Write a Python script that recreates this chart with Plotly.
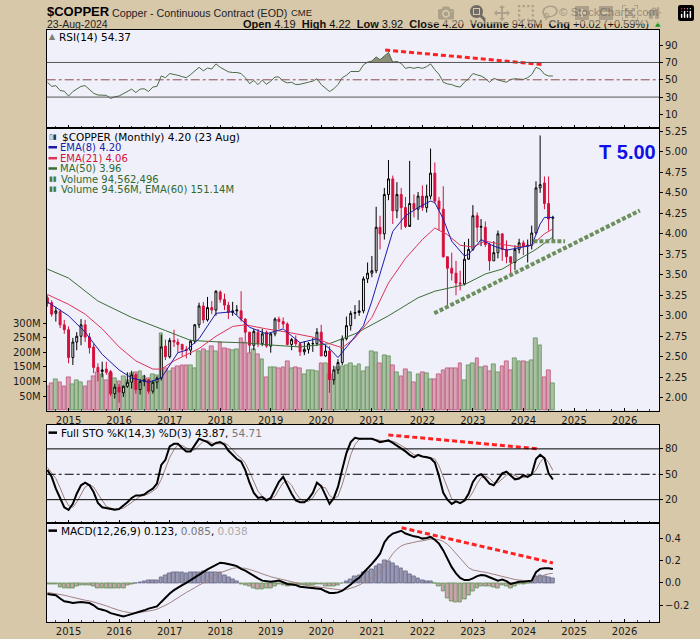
import pandas as pd
import plotly.graph_objects as go

# monthly bars Aug 2014 .. Aug 2024
months = pd.date_range("2014-08-01", "2024-08-01", freq="MS")

opens = [3.22, 3.16, 3.03, 3.05, 2.89,
         2.83, 2.49, 2.68, 2.75, 2.89, 2.74, 2.62, 2.37, 2.32, 2.35, 2.32, 2.05,
         2.13, 2.06, 2.14, 2.19, 2.28, 2.10, 2.20, 2.22, 2.08, 2.19, 2.24, 2.63,
         2.50, 2.70, 2.68, 2.65, 2.59, 2.58, 2.69, 2.89, 3.12, 2.95, 3.10, 3.07,
         3.29, 3.20, 3.13, 3.04, 3.06, 3.06, 2.96, 2.80, 2.64, 2.80, 2.66, 2.80,
         2.63, 2.78, 2.96, 2.93, 2.90, 2.65, 2.71, 2.66, 2.56, 2.59, 2.66, 2.66,
         2.80, 2.51, 2.57, 2.22, 2.34, 2.43, 2.72, 2.88, 3.03, 3.04, 3.06, 3.45,
         3.52, 3.55, 4.08, 4.00, 4.48, 4.67, 4.28, 4.48, 4.32, 4.09, 4.37, 4.30,
         4.46, 4.32, 4.46, 4.74, 4.40, 4.30, 3.72, 3.58, 3.52, 3.40, 3.39, 3.69,
         3.81, 4.22, 4.08, 4.08, 3.87, 3.67, 3.77, 4.00, 3.81, 3.72, 3.65, 3.81,
         3.89, 3.85, 3.86, 4.01, 4.56, 4.62, 4.37, 4.19]
highs = [3.25, 3.19, 3.11, 3.08, 2.95,
         2.87, 2.73, 2.80, 2.96, 2.95, 2.79, 2.66, 2.42, 2.44, 2.44, 2.34, 2.17,
         2.17, 2.15, 2.31, 2.33, 2.30, 2.23, 2.28, 2.23, 2.21, 2.26, 2.77, 2.71,
         2.73, 2.83, 2.72, 2.66, 2.63, 2.71, 2.90, 3.16, 3.17, 3.23, 3.18, 3.31,
         3.31, 3.27, 3.17, 3.17, 3.13, 3.30, 2.97, 2.80, 2.84, 2.84, 2.84, 2.82,
         2.80, 2.98, 2.99, 2.98, 2.92, 2.73, 2.76, 2.67, 2.69, 2.68, 2.73, 2.85,
         2.89, 2.65, 2.63, 2.39, 2.47, 2.76, 2.99, 3.06, 3.13, 3.19, 3.48, 3.65,
         3.73, 4.33, 4.22, 4.56, 4.90, 4.71, 4.63, 4.56, 4.45, 4.89, 4.48, 4.51,
         4.59, 4.60, 5.04, 4.87, 4.45, 4.58, 3.72, 3.77, 3.67, 3.55, 3.90, 3.94,
         4.35, 4.26, 4.18, 4.15, 3.89, 3.91, 4.04, 4.00, 3.92, 3.72, 3.86, 3.94,
         3.92, 3.93, 4.10, 4.64, 5.20, 4.70, 4.70, 4.22]
lows = [3.11, 2.99, 2.93, 2.85, 2.78,
        2.42, 2.40, 2.58, 2.64, 2.68, 2.54, 2.30, 2.20, 2.25, 2.28, 2.02, 1.99,
        1.94, 2.01, 2.12, 2.11, 2.05, 2.04, 2.14, 2.05, 2.05, 2.11, 2.21, 2.46,
        2.48, 2.62, 2.55, 2.50, 2.48, 2.52, 2.66, 2.85, 2.91, 2.93, 3.02, 3.00,
        3.16, 3.07, 2.96, 3.00, 3.01, 2.93, 2.69, 2.55, 2.58, 2.62, 2.63, 2.61,
        2.55, 2.75, 2.84, 2.85, 2.64, 2.58, 2.63, 2.51, 2.52, 2.54, 2.56, 2.63,
        2.51, 2.50, 2.06, 2.16, 2.29, 2.40, 2.70, 2.82, 2.96, 3.00, 3.03, 3.40,
        3.47, 3.52, 3.81, 3.93, 4.41, 4.12, 4.19, 4.05, 4.07, 4.11, 4.20, 4.17,
        4.28, 4.26, 4.42, 4.37, 4.04, 3.71, 3.13, 3.43, 3.25, 3.31, 3.37, 3.70,
        3.79, 3.90, 3.85, 3.84, 3.55, 3.67, 3.70, 3.67, 3.64, 3.51, 3.56, 3.76,
        3.74, 3.65, 3.81, 3.99, 4.50, 4.30, 4.04, 3.92]
closes = [3.15, 3.02, 3.06, 2.89, 2.83,
          2.49, 2.68, 2.75, 2.89, 2.74, 2.61, 2.37, 2.32, 2.34, 2.31, 2.05, 2.13,
          2.07, 2.14, 2.19, 2.28, 2.10, 2.20, 2.22, 2.08, 2.19, 2.24, 2.62, 2.50,
          2.70, 2.68, 2.65, 2.59, 2.58, 2.69, 2.89, 3.12, 2.95, 3.10, 3.07, 3.30,
          3.20, 3.13, 3.04, 3.06, 3.07, 2.96, 2.80, 2.64, 2.81, 2.66, 2.78, 2.63,
          2.78, 2.96, 2.93, 2.90, 2.65, 2.71, 2.66, 2.56, 2.59, 2.66, 2.66, 2.80,
          2.51, 2.57, 2.22, 2.34, 2.43, 2.72, 2.88, 3.03, 3.04, 3.06, 3.45, 3.52,
          3.55, 4.08, 4.00, 4.48, 4.67, 4.28, 4.48, 4.32, 4.09, 4.37, 4.30, 4.46,
          4.32, 4.46, 4.74, 4.40, 4.30, 3.72, 3.58, 3.52, 3.40, 3.39, 3.69, 3.81,
          4.22, 4.08, 4.09, 3.87, 3.67, 3.77, 4.00, 3.81, 3.72, 3.65, 3.81, 3.89,
          3.85, 3.86, 4.01, 4.56, 4.60, 4.37, 4.18, 4.20]
# volume in millions of contracts
volume_m = [83, 95, 107, 98, 82, 115, 92, 104, 98, 83,
            101, 118, 132, 124, 104, 128, 112, 100, 118, 105,
            128, 130, 136, 118, 110, 125, 122, 267, 147,
            136, 147, 153, 155, 155, 155, 144, 204, 210, 204, 221,
            204, 236, 213, 210, 207, 210, 248, 236, 198, 210, 193, 176, 115,
            150, 150, 147, 150, 170, 147, 149, 147, 124, 138, 138, 136,
            161, 161, 124, 104, 149, 153, 155, 164, 153, 159,
            136, 150, 204, 201, 164, 189, 186, 155, 130, 118,
            142, 133, 98, 126, 130, 128, 107, 109, 126, 139,
            145, 145, 146, 162, 104, 155, 162, 179, 149, 153,
            136, 159, 133, 153, 168, 140, 178, 168, 170, 165,
            172, 248, 225, 116, 139, 94.6]

# overlays
ema8_dates = ["2014-08", "2015-01", "2015-05", "2015-09", "2016-01", "2016-04", "2016-08",
              "2016-11", "2017-03", "2017-05", "2017-08", "2017-12", "2018-04", "2018-08",
              "2018-12", "2019-04", "2019-08", "2019-12", "2020-03", "2020-05", "2020-08",
              "2020-11", "2021-01", "2021-04", "2021-06", "2021-09", "2021-12", "2022-03",
              "2022-04", "2022-06", "2022-08", "2022-11", "2022-12", "2023-02", "2023-03",
              "2023-06", "2023-09", "2023-12", "2024-03", "2024-04", "2024-05", "2024-06",
              "2024-07", "2024-08"]
ema8_vals = [3.17, 3.00, 2.80, 2.53, 2.34, 2.24, 2.19, 2.24, 2.55, 2.58, 2.72, 3.03, 3.05,
             2.86, 2.78, 2.84, 2.67, 2.72, 2.60, 2.49, 2.68, 2.88, 3.18, 3.67, 4.03, 4.22,
             4.32, 4.40, 4.38, 4.18, 3.91, 3.73, 3.75, 3.87, 3.93, 3.85, 3.80, 3.83, 3.86,
             3.99, 4.12, 4.20, 4.20, 4.20]
ema21_dates = ["2014-08", "2015-01", "2015-05", "2015-09", "2016-01", "2016-05", "2016-09",
               "2016-11", "2017-02", "2017-05", "2017-08", "2017-12", "2018-04", "2018-07",
               "2018-12", "2019-05", "2019-11", "2020-03", "2020-06", "2020-09", "2021-01",
               "2021-05", "2021-09", "2022-01", "2022-04", "2022-07", "2022-10", "2023-01",
               "2023-04", "2023-08", "2023-12", "2024-03", "2024-06", "2024-08"]
ema21_vals = [3.26, 3.14, 3.02, 2.84, 2.62, 2.45, 2.35, 2.35, 2.45, 2.52, 2.60, 2.75, 2.87,
              2.89, 2.84, 2.80, 2.74, 2.66, 2.61, 2.73, 2.98, 3.40, 3.70, 3.93, 4.07, 3.99,
              3.86, 3.84, 3.91, 3.87, 3.84, 3.86, 4.00, 4.06]
ma50_dates = ["2014-08", "2015-01", "2015-08", "2016-04", "2016-12", "2017-06", "2018-01",
              "2018-07", "2019-02", "2019-08", "2020-03", "2020-09", "2021-05", "2021-12",
              "2022-04", "2022-11", "2023-04", "2023-08", "2023-12", "2024-04", "2024-08"]
ma50_vals = [3.57, 3.46, 3.18, 2.98, 2.82, 2.70, 2.68, 2.67, 2.64, 2.62, 2.66, 2.78, 3.00,
             3.22, 3.30, 3.38, 3.51, 3.57, 3.69, 3.81, 3.96]

# indicator panels, one value per month
rsi14 = [47.2, 42.4, 43.2, 37.6, 36.8, 31.2, 36.4, 39.2, 42.4, 43.2,
         39.2, 34.4, 32.4, 32.4, 32.0, 28.4, 30.4, 31.2, 33.6, 36.4,
         39.2, 35.2, 39.2, 39.6, 36.4, 41.6, 42.4, 54.4, 52.4, 57.2,
         56.4, 55.2, 53.6, 52.4, 56.0, 60.4, 64.4, 60.4, 63.6, 62.4,
         68.4, 64.4, 61.2, 59.2, 58.4, 58.4, 57.2, 52.4, 45.6, 49.2,
         44.4, 49.6, 44.8, 48.4, 53.2, 53.2, 48.4, 46.4, 47.2, 44.4,
         44.8, 46.4, 47.2, 48.4, 51.2, 44.4, 40.4, 36.4, 39.6, 44.4,
         52.4, 55.2, 59.6, 60.0, 59.6, 67.2, 70.4, 71.6, 76.4, 73.2,
         77.6, 81.6, 70.4, 71.2, 68.8, 63.2, 64.4, 63.2, 64.4, 63.2,
         65.2, 68.4, 61.6, 56.4, 47.2, 45.2, 44.4, 42.4, 41.6, 47.2,
         51.2, 57.2, 55.6, 54.4, 51.6, 47.2, 51.6, 49.6, 48.4, 47.2,
         50.4, 51.2, 51.2, 50.4, 52.4, 56.0, 64.4, 62.4, 56.4, 54.4, 54.37]
sto_k = [55, 47, 33, 21, 11, 8, 15, 27, 37, 40,
         37, 29, 16, 11, 10, 9, 8, 9, 13, 17,
         22, 25, 25, 26, 30, 33, 39, 61, 67, 83,
         86, 86, 81, 77, 77, 84, 92, 90, 88, 84,
         87, 88, 85, 78, 73, 68, 65, 55, 40, 28,
         22, 23, 19, 22, 32, 41, 47, 37, 27, 19,
         17, 17, 21, 28, 40, 36, 25, 15, 22, 35,
         56, 75, 88, 93, 92, 92, 92, 92, 90, 88,
         89, 90, 87, 84, 81, 77, 73, 70, 73, 71,
         70, 69, 64, 48, 28, 20, 15, 18, 16, 19,
         27, 41, 48, 50, 45, 39, 37, 44, 51, 53,
         48, 44, 45, 49, 47, 50, 68, 73, 69, 51, 43.87]
sto_d = [58, 52, 45, 34, 22, 13, 11, 17, 26, 35,
         38, 35, 27, 19, 12, 10, 9, 9, 10, 13,
         17, 21, 24, 25, 27, 30, 34, 44, 56, 70,
         79, 85, 84, 81, 78, 79, 84, 89, 90, 87,
         86, 86, 87, 84, 79, 73, 69, 63, 53, 41,
         30, 24, 21, 21, 24, 32, 40, 42, 37, 28,
         21, 18, 18, 22, 30, 35, 34, 25, 21, 24,
         38, 55, 73, 85, 91, 92, 92, 92, 91, 90,
         89, 89, 89, 87, 84, 81, 77, 73, 72, 71,
         71, 70, 68, 60, 47, 32, 21, 18, 16, 18,
         21, 29, 39, 46, 48, 45, 40, 40, 44, 49,
         51, 48, 46, 46, 47, 49, 55, 64, 70, 64, 54.71]
macd_line = [-0.10, -0.105, -0.11, -0.14, -0.165, -0.17, -0.18, -0.175, -0.17, -0.175,
             -0.18, -0.20, -0.23, -0.24, -0.25, -0.27, -0.28, -0.29, -0.30, -0.29,
             -0.28, -0.27, -0.26, -0.245, -0.23, -0.22, -0.21, -0.17, -0.13, -0.095,
             -0.065, -0.04, -0.02, 0.00, 0.025, 0.05, 0.075, 0.10, 0.12, 0.14,
             0.16, 0.18, 0.175, 0.17, 0.16, 0.15, 0.125, 0.11, 0.085, 0.06,
             0.04, 0.02, 0.015, 0.01, 0.015, 0.02, 0.005, -0.01, -0.015, -0.02,
             -0.035, -0.04, -0.045, -0.05, -0.05, -0.055, -0.075, -0.09, -0.09, -0.085,
             -0.07, -0.045, -0.015, 0.02, 0.045, 0.09, 0.125, 0.17, 0.215, 0.26,
             0.36, 0.41, 0.44, 0.455, 0.465, 0.44, 0.425, 0.415, 0.41, 0.395,
             0.40, 0.41, 0.385, 0.35, 0.29, 0.21, 0.14, 0.085, 0.045, 0.025,
             0.025, 0.04, 0.06, 0.07, 0.065, 0.05, 0.035, 0.02, 0.03, 0.015,
             -0.01, 0.00, 0.01, 0.01, 0.012, 0.02, 0.095, 0.125, 0.13, 0.13, 0.123]
macd_signal = [-0.085, -0.09, -0.095, -0.10, -0.11, -0.12, -0.13, -0.14, -0.15, -0.155,
               -0.16, -0.17, -0.18, -0.19, -0.205, -0.22, -0.235, -0.245, -0.255, -0.265,
               -0.27, -0.27, -0.265, -0.26, -0.255, -0.245, -0.235, -0.22, -0.20, -0.18,
               -0.155, -0.13, -0.11, -0.085, -0.065, -0.04, -0.02, 0.00, 0.025, 0.045,
               0.07, 0.09, 0.105, 0.12, 0.13, 0.135, 0.135, 0.13, 0.12, 0.11,
               0.095, 0.08, 0.065, 0.055, 0.045, 0.035, 0.03, 0.02, 0.01, 0.00,
               -0.01, -0.02, -0.025, -0.03, -0.035, -0.04, -0.045, -0.055, -0.06, -0.065,
               -0.065, -0.06, -0.05, -0.035, -0.02, 0.00, 0.02, 0.045, 0.07, 0.095,
               0.15, 0.21, 0.26, 0.30, 0.33, 0.345, 0.355, 0.36, 0.37, 0.375,
               0.385, 0.39, 0.39, 0.385, 0.37, 0.345, 0.305, 0.26, 0.215, 0.17,
               0.135, 0.115, 0.105, 0.10, 0.095, 0.085, 0.075, 0.065, 0.055, 0.045,
               0.035, 0.03, 0.025, 0.02, 0.018, 0.018, 0.035, 0.055, 0.07, 0.08, 0.085]
macd_hist = [-0.015, -0.015, -0.015, -0.04, -0.05, -0.05, -0.045, -0.035, -0.02, -0.02,
             -0.02, -0.03, -0.05, -0.05, -0.045, -0.05, -0.045, -0.045, -0.045, -0.025,
             -0.01, 0.0, 0.005, 0.015, 0.025, 0.025, 0.025, 0.05, 0.07, 0.085,
             0.09, 0.09, 0.09, 0.085, 0.09, 0.09, 0.095, 0.10, 0.095, 0.095,
             0.09, 0.09, 0.07, 0.05, 0.03, 0.015, -0.01, -0.02, -0.035, -0.05,
             -0.055, -0.06, -0.05, -0.045, -0.03, -0.015, -0.025, -0.03, -0.025, -0.02,
             -0.025, -0.02, -0.02, -0.02, -0.015, -0.015, -0.03, -0.035, -0.03, -0.02,
             -0.005, 0.015, 0.035, 0.055, 0.065, 0.09, 0.105, 0.125, 0.145, 0.165,
             0.20, 0.19, 0.17, 0.15, 0.13, 0.10, 0.08, 0.06, 0.04, 0.025,
             0.015, 0.015, -0.005, -0.035, -0.08, -0.135, -0.165, -0.175, -0.17, -0.145,
             -0.11, -0.08, -0.05, -0.035, -0.03, -0.035, -0.04, -0.045, -0.025, -0.03,
             -0.045, -0.03, -0.015, -0.01, -0.006, 0.002, 0.06, 0.07, 0.06, 0.05, 0.038]

# hand-drawn annotations on the chart
rsi_div_dates = ["2021-04-07", "2024-05-22"]
rsi_div_vals = [84.5, 67.5]
sto_div_dates = ["2021-04-30", "2024-04-25"]
sto_div_vals = [96.5, 80.0]
macd_div_dates = ["2021-08-04", "2024-08-01"]
macd_div_vals = [0.492, 0.178]
trend_dates = ["2022-03-28", "2026-04-22"]
trend_vals = [3.03, 4.285]
support_dates = ["2024-03-13", "2024-10-28"]
support_vals = [3.91, 3.91]

rsi_ticks = [10, 30, 50, 70, 90]
rsi_bands = [30, 70]
sto_ticks = [20, 50, 80]
sto_bands = [20, 80]
macd_ticks = [-0.2, 0.0, 0.2, 0.4]
price_ticks = [2.00, 2.25, 2.50, 2.75, 3.00, 3.25, 3.50, 3.75, 4.00, 4.25, 4.50, 4.75, 5.00, 5.25]
vol_ticks = [50, 100, 150, 200, 250, 300]

W, H = 700, 639


def px(x):
    return x / W


def py(y):
    return 1 - y / H


TAN = "#d8c8aa"
PANEL = "#eff0f9"
AXFONT = dict(family="DejaVu Sans", size=10, color="#1a1a1a")
LEGFONT = "DejaVu Sans"
HEAD = "Liberation Sans, Arial"

vol = [v * 1e6 for v in volume_m]
up = [i > 0 and closes[i] >= closes[i - 1] for i in range(len(closes))]
vol_fill = ["#a9bfa1" if u else "#d5a3b3" for u in up]
vol_line = ["#5f8f58" if u else "#c0507a" for u in up]
hist_fill = ["#9898b2" if h >= 0 else "#c8a4ad" for h in macd_hist]
hist_line = ["#666688" if h >= 0 else "#5d9452" for h in macd_hist]
rsi_over = [max(r, 70) for r in rsi14]

fig = go.Figure()

# RSI panel
fig.add_trace(go.Scatter(x=months, y=[70] * len(months), mode="lines",
                         line=dict(width=0), xaxis="x", yaxis="y", hoverinfo="skip"))
fig.add_trace(go.Scatter(x=months, y=rsi_over, mode="lines", fill="tonexty",
                         fillcolor="#8e8e78", line=dict(width=0), xaxis="x", yaxis="y"))
fig.add_trace(go.Scatter(x=months, y=rsi14, mode="lines",
                         line=dict(color="#4d6a45", width=1), xaxis="x", yaxis="y"))
fig.add_trace(go.Scatter(x=rsi_div_dates, y=rsi_div_vals, mode="lines",
                         line=dict(color="#ff2020", width=3, dash="5px,3px"), xaxis="x", yaxis="y"))

# price panel: volume on base axis, price overlaid
fig.add_trace(go.Bar(x=months, y=vol, width=27 * 86400000,
                     marker=dict(color=vol_fill, line=dict(color=vol_line, width=0.8)),
                     xaxis="x2", yaxis="y2"))
fig.add_trace(go.Scatter(x=ma50_dates, y=ma50_vals, mode="lines",
                         line=dict(color="#3b6e34", width=1), xaxis="x2", yaxis="y3"))
fig.add_trace(go.Scatter(x=ema21_dates, y=ema21_vals, mode="lines",
                         line=dict(color="#e0335a", width=1), xaxis="x2", yaxis="y3"))
fig.add_trace(go.Scatter(x=ema8_dates, y=ema8_vals, mode="lines",
                         line=dict(color="#1c1ca8", width=1), xaxis="x2", yaxis="y3"))
fig.add_trace(go.Scatter(x=trend_dates, y=trend_vals, mode="lines",
                         line=dict(color="#6c8f5e", width=4, dash="4px,2px"), xaxis="x2", yaxis="y3"))
fig.add_trace(go.Scatter(x=support_dates, y=support_vals, mode="lines",
                         line=dict(color="#6c8f5e", width=4, dash="4px,2px"), xaxis="x2", yaxis="y3"))
fig.add_trace(go.Candlestick(x=months, open=opens, high=highs, low=lows, close=closes,
                             increasing=dict(line=dict(color="#000000", width=1), fillcolor="#ffffff"),
                             decreasing=dict(line=dict(color="#d4103c", width=1), fillcolor="#d4103c"),
                             whiskerwidth=0, xaxis="x2", yaxis="y3"))

# STO panel
fig.add_trace(go.Scatter(x=months, y=sto_d, mode="lines",
                         line=dict(color="#9c7c7c", width=1), xaxis="x3", yaxis="y4"))
fig.add_trace(go.Scatter(x=months, y=sto_k, mode="lines",
                         line=dict(color="#000000", width=2), xaxis="x3", yaxis="y4"))
fig.add_trace(go.Scatter(x=sto_div_dates, y=sto_div_vals, mode="lines",
                         line=dict(color="#ff2020", width=3, dash="5px,3px"), xaxis="x3", yaxis="y4"))

# MACD panel
fig.add_trace(go.Bar(x=months, y=macd_hist, width=27 * 86400000,
                     marker=dict(color=hist_fill, line=dict(color=hist_line, width=0.8)),
                     xaxis="x4", yaxis="y5"))
fig.add_trace(go.Scatter(x=months, y=macd_signal, mode="lines",
                         line=dict(color="#a08282", width=1), xaxis="x4", yaxis="y5"))
fig.add_trace(go.Scatter(x=months, y=macd_line, mode="lines",
                         line=dict(color="#000000", width=2), xaxis="x4", yaxis="y5"))
fig.add_trace(go.Scatter(x=macd_div_dates, y=macd_div_vals, mode="lines",
                         line=dict(color="#ff2020", width=3, dash="5px,3px"), xaxis="x4", yaxis="y5"))

xdom = [px(46.7), px(659)]
xr = ["2014-07-27", "2026-09-07"]


def xaxis(anchor, labels):
    return dict(domain=xdom, anchor=anchor, type="date", range=xr, showgrid=False,
                zeroline=False, showline=True, linecolor="#000", linewidth=1, mirror=True,
                tickmode="linear", tick0="2015-01-01", dtick="M12", tickformat="%Y",
                ticks="inside", ticklen=3, tickcolor="#000", showticklabels=labels,
                tickfont=AXFONT, rangeslider=dict(visible=False),
                minor=dict(ticks="inside", ticklen=2, tickcolor="#444", dtick="M3",
                           showgrid=False))


def yaxis(anchor, dom, rng, tickvals, fmt=None):
    d = dict(domain=dom, anchor=anchor, range=rng, side="right", showgrid=False,
             zeroline=False, showline=True, linecolor="#000", linewidth=1, mirror=True,
             tickmode="array", tickvals=tickvals, ticks="outside", ticklen=3,
             tickcolor="#000", tickfont=AXFONT, fixedrange=True)
    if fmt:
        d["tickformat"] = fmt
    return d


fig.update_layout(
    width=W, height=H, autosize=False,
    margin=dict(l=0, r=0, t=0, b=0),
    paper_bgcolor=TAN, plot_bgcolor=PANEL,
    showlegend=False, bargap=0,
    xaxis=xaxis("y", False),
    xaxis2=xaxis("y2", True),
    xaxis3=xaxis("y4", False),
    xaxis4=xaxis("y5", True),
    yaxis=yaxis("x", [py(126.7), py(27.7)], [-6.1, 108], rsi_ticks),
    yaxis2=dict(domain=[py(410), py(126.7)], anchor="x2", range=[0, 968e6], side="left",
                showgrid=False, zeroline=False, showline=True, linecolor="#000",
                tickmode="array", tickvals=[v * 1e6 for v in vol_ticks],
                ticktext=[f"{v}M" for v in vol_ticks], ticks="outside", ticklen=3,
                tickcolor="#000", tickfont=AXFONT),
    yaxis3=dict(overlaying="y2", anchor="x2", side="right", range=[1.842, 5.287],
                showgrid=False, zeroline=False, showline=True, linecolor="#000",
                tickmode="array", tickvals=price_ticks, tickformat=".2f",
                ticks="outside", ticklen=3, tickcolor="#000", tickfont=AXFONT),
    yaxis4=yaxis("x3", [py(523), py(424)], [-8, 108.6], sto_ticks),
    yaxis5=yaxis("x4", [py(621.7), py(523)], [-0.347, 0.531], macd_ticks, ".1f"),
)

shapes = []
for lvl in rsi_bands:
    shapes.append(dict(type="line", xref="x domain", yref="y", x0=0, x1=1, y0=lvl, y1=lvl,
                       line=dict(color="#555555", width=1)))
shapes.append(dict(type="line", xref="x domain", yref="y", x0=0, x1=1, y0=50, y1=50,
                   line=dict(color="#8a4f4f", width=1, dash="dashdot")))
for lvl in sto_bands:
    shapes.append(dict(type="line", xref="x3 domain", yref="y4", x0=0, x1=1, y0=lvl, y1=lvl,
                       line=dict(color="#000000", width=1)))
shapes.append(dict(type="line", xref="x3 domain", yref="y4", x0=0, x1=1, y0=50, y1=50,
                   line=dict(color="#000000", width=1, dash="dashdot")))

# legend swatches
for yy, col in [(145.7, "#1c1ca8"), (156.7, "#e0335a"), (167, "#3b6e34"),
                (432, "#000000"), (530.3, "#000000")]:
    shapes.append(dict(type="line", xref="paper", yref="paper", x0=px(48.5), x1=px(57),
                       y0=py(yy), y1=py(yy), line=dict(color=col, width=2.5)))
fig.update_layout(shapes=shapes)


def note(x, y, text, size=10, color="#000", family=LEGFONT, anchor="left"):
    fig.add_annotation(xref="paper", yref="paper", x=px(x), y=py(y), text=text,
                       showarrow=False, xanchor=anchor, yanchor="middle",
                       font=dict(family=family, size=size, color=color))


note(45, 10, "<b>$COPPER</b>", size=13, family=HEAD)
note(110, 11, "Copper - Continuous Contract (EOD)", size=10.7, family=HEAD, color="#222")
note(289, 11, "CME", size=9.5, family=HEAD, color="#222")
note(660, 10, "© StockCharts.com", size=11.5, family=HEAD, color="#555", anchor="right")
note(45, 22.5, "23-Aug-2024", size=10.5, family=HEAD, color="#222")
note(651, 22.5, "<b>Open</b> 4.19  <b>High</b> 4.22  <b>Low</b> 3.92  <b>Close</b> 4.20  "
     "<b>Volume</b> 94.6M  <b>Chg</b> +0.02 (+0.59%)", size=11, family=HEAD, color="#111",
     anchor="right")
note(653, 22.5, "▲", size=7, color="#1f9a2f")

# small legend icons
note(47, 34.5, "▲", size=8, color="#7e7e6a")
note(47.5, 135, "▯▮", size=7, color="#333")
note(47.5, 177.7, "▮▮", size=7, color="#4d7a45")
note(47.5, 187.7, "▮▮", size=7, color="#4d7a45")

note(57, 34.7, "RSI(14) 54.37", size=10.5)
note(60, 135, "$COPPER (Monthly) 4.20 (23 Aug)", size=10.5)
note(58, 145.7, "EMA(8) 4.20", color="#1c1ca8")
note(58, 156.7, "EMA(21) 4.06", color="#d4103c")
note(58, 167, "MA(50) 3.96", color="#2f6a2f")
note(59, 177.7, "Volume 94,562,496", color="#2f6a2f")
note(59, 187.7, "Volume 94.56M, EMA(60) 151.14M", color="#2f6a2f")
note(658, 150, "<b>T 5.00</b>", size=20, color="#1010e8", family="Liberation Sans",
     anchor="right")
note(59, 432, "Full STO %K(14,3) %D(3) 43.87, <span style='color:#777'>54.71</span>",
     size=10.5)
note(59, 530.3, "MACD(12,26,9) 0.123, <span style='color:#777'>0.085</span>, "
     "<span style='color:#aaa'>0.038</span>", size=10.5)

# the page body keeps a default 8px margin; drop it so the chart fills the window
page_js = ("document.body.style.margin='0';"
           "document.body.style.background='" + TAN + "';"
           "document.documentElement.style.overflow='hidden';")
fig.write_html("out.html", post_script=page_js)
